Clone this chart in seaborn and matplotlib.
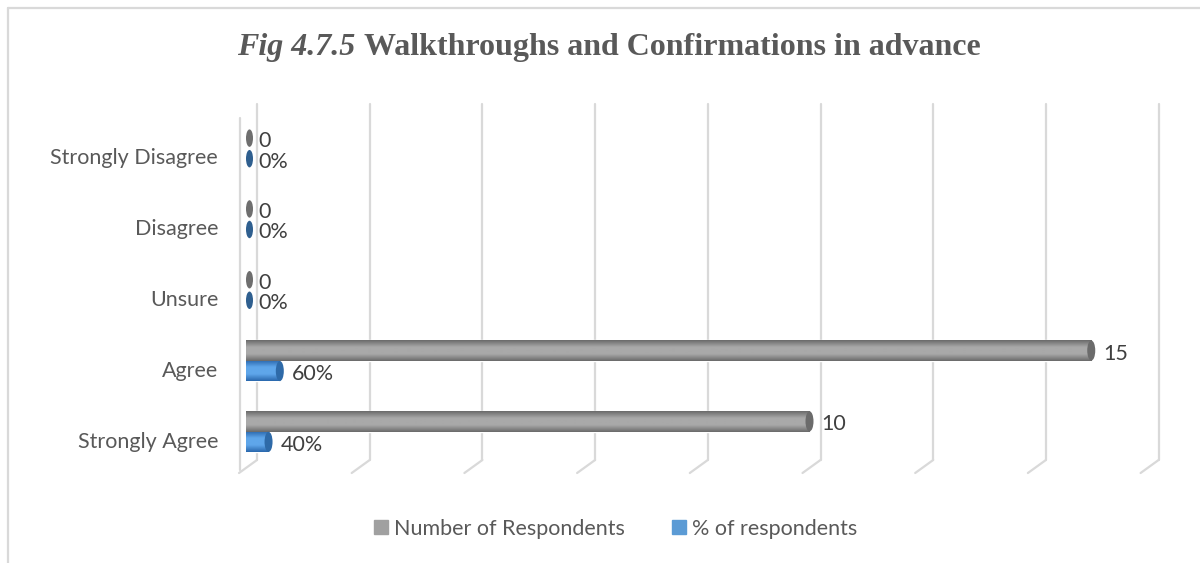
import numpy as np
import pandas as pd
import matplotlib
matplotlib.use("Agg")
import matplotlib.pyplot as plt
import matplotlib.transforms as mtransforms
from matplotlib.patches import Ellipse
from matplotlib.lines import Line2D
from matplotlib.colors import LinearSegmentedColormap
import seaborn as sns

# ---------------- data ----------------
categories = ["Strongly Disagree", "Disagree", "Unsure", "Agree", "Strongly Agree"]
respondents = [0, 0, 0, 15, 10]
percent = [0.0, 0.0, 0.0, 0.60, 0.40]
percent_labels = ["0%", "0%", "0%", "60%", "40%"]
series_names = ["Number of Respondents", "% of respondents"]
title_italic = "Fig 4.7.5"
title_rest = "Walkthroughs and Confirmations in advance"

df = pd.DataFrame({
    "category": categories * 2,
    "value": respondents + percent,
    "series": [series_names[0]] * 5 + [series_names[1]] * 5,
})

sns.set_theme(style="white")
plt.rcParams["font.family"] = ["Lato", "DejaVu Sans"]

W, H = 1200, 563
DPI = 100
fig = plt.figure(figsize=(W / DPI, H / DPI), dpi=DPI)
fig.patch.set_facecolor("white")

def fx(px):
    return px / W

def fy(py):
    return 1 - py / H

FS = 15.5

# axes in the "bar plane"
scale = 56.35
ax_left, ax_top, ax_bottom = 246, 113, 467
xmax = 16
ax = fig.add_axes([fx(ax_left), fy(ax_bottom), (xmax * scale) / W, (ax_bottom - ax_top) / H])
ax.set_facecolor("none")

gray_base = "#8c8c8c"
blue_base = "#4a8fd6"
sns.barplot(data=df, y="category", x="value", hue="series", orient="h",
            order=categories, hue_order=series_names,
            palette=[gray_base, blue_base], width=0.58, gap=0,
            ax=ax, legend=False, saturation=1)

ax.set_xlim(0, xmax)
ax.set_ylim(4.5, -0.5)
for s in ax.spines.values():
    s.set_visible(False)
ax.set_xticks([])
ax.set_xlabel("")
ax.set_ylabel("")
ax.tick_params(axis="y", length=0, pad=20, labelsize=FS, labelcolor="#595959")
offset = mtransforms.ScaledTranslation(0, -8 / DPI, fig.dpi_scale_trans)
for lab in ax.get_yticklabels():
    lab.set_transform(lab.get_transform() + offset)

# gridlines (back plane) drawn from axis values
fig.canvas.draw()
for v in np.arange(0, xmax + 1, 2):
    xp = ax.transData.transform((v, 0))[0]
    xp_back = xp + 11
    fig.add_artist(Line2D([fx(xp_back), fx(xp_back)], [fy(104), fy(460)],
                          color="#d9d9d9", lw=1.6, zorder=0))
    fig.add_artist(Line2D([fx(xp_back), fx(xp_back - 18)], [fy(460), fy(473)],
                          color="#d9d9d9", lw=1.6, zorder=0))
# side wall front edge
x0p = ax.transData.transform((0, 0))[0]
fig.add_artist(Line2D([fx(x0p - 6), fx(x0p - 6)], [fy(118), fy(470)],
                      color="#d9d9d9", lw=1.6, zorder=0))

# cylinder shading + caps
def grad_cmap(dark, light):
    return LinearSegmentedColormap.from_list("g", [dark, light, light, dark], N=256)

cmaps = [grad_cmap("#6a6a6a", "#a9a9a9"), grad_cmap("#2a68ad", "#5fa6ea")]
cap_cols = ["#6b6b6b", "#2e6aa8"]
zero_cols = ["#6e6e6e", "#2f5f8f"]
grad = np.linspace(0, 1, 64).reshape(-1, 1)
cap_w = 8 / scale

n = len(categories)
for i, patch in enumerate(ax.patches[: 2 * n]):
    s = i // n
    x0 = patch.get_x()
    w = patch.get_width()
    y0 = patch.get_y()
    h = patch.get_height()
    yc = y0 + h / 2
    if w > 0:
        im = ax.imshow(grad, extent=(x0, x0 + w, y0 + h, y0), cmap=cmaps[s],
                       aspect="auto", zorder=patch.get_zorder() + 0.1,
                       interpolation="bilinear")
        im.set_clip_path(patch)
        ax.add_patch(Ellipse((x0 + w, yc), cap_w, h * 0.98,
                             facecolor=cap_cols[s], edgecolor="none",
                             zorder=patch.get_zorder() + 0.2))
        ax.add_patch(Ellipse((x0, yc), cap_w, h * 0.98,
                             facecolor=cmaps[s](0.5), edgecolor="none",
                             zorder=patch.get_zorder() - 0.1))
    else:
        ax.add_patch(Ellipse((x0 + 3.5 / scale, yc), 7 / scale, h * 0.85,
                             facecolor=zero_cols[s], edgecolor="none",
                             zorder=patch.get_zorder() + 0.2))

# data labels
label_sets = [[str(v) for v in respondents], percent_labels]
for i, patch in enumerate(ax.patches[: 2 * n]):
    s = i // n
    j = i % n
    w = patch.get_width()
    yc = patch.get_y() + patch.get_height() / 2
    ax.annotate(label_sets[s][j], (w, yc), xytext=(12 * 0.72, -3 * 0.72),
                textcoords="offset points", ha="left", va="center",
                fontsize=FS, color="#404040", zorder=10)

ax.set_xlim(0, xmax)
ax.set_ylim(4.5, -0.5)

# title (mixed italic / bold)
renderer = fig.canvas.get_renderer()
tfont = dict(family="Liberation Serif", fontweight="bold", fontsize=23, color="#595959")
t1 = fig.text(0, fy(48), title_italic + " ", style="italic", va="center", ha="left", **tfont)
t2 = fig.text(0, fy(48), title_rest, va="center", ha="left", **tfont)
w1 = t1.get_window_extent(renderer).width
w2 = t2.get_window_extent(renderer).width
start = 609 - (w1 + w2) / 2
t1.set_x(fx(start))
t2.set_x(fx(start + w1))

# legend
handles = [Line2D([], [], marker="s", linestyle="none", markersize=10,
                  markerfacecolor=c, markeredgecolor=c) for c in ["#a0a0a0", "#5b9bd5"]]
fig.legend(handles, series_names, loc="center", bbox_to_anchor=(fx(614), fy(529)),
           ncol=2, frameon=False, fontsize=FS, labelcolor="#595959",
           handletextpad=0.1, columnspacing=2.0, handlelength=1.0)

# chart border
fig.add_artist(Line2D([fx(8), fx(8)], [fy(8), fy(563)], color="#d9d9d9", lw=1.6))
fig.add_artist(Line2D([fx(8), fx(1200)], [fy(8), fy(8)], color="#d9d9d9", lw=1.6))

fig.savefig("out.png", dpi=DPI, facecolor="white")
